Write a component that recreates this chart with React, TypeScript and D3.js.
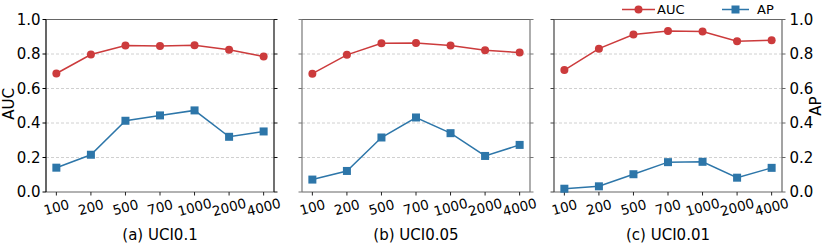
import React from "react";
import * as d3 from "d3";

const categories = ["100", "200", "500", "700", "1000", "2000", "4000"];
const aucA = [0.687, 0.797, 0.849, 0.846, 0.851, 0.824, 0.786];
const apA = [0.141, 0.216, 0.413, 0.444, 0.473, 0.32, 0.351];
const aucB = [0.686, 0.795, 0.862, 0.864, 0.849, 0.822, 0.808];
const apB = [0.072, 0.122, 0.316, 0.432, 0.341, 0.209, 0.273];
const aucC = [0.707, 0.831, 0.913, 0.934, 0.93, 0.874, 0.88];
const apC = [0.019, 0.033, 0.103, 0.173, 0.175, 0.083, 0.14];
const yTicks = [0, 0.2, 0.4, 0.6, 0.8, 1.0];
const captions = ["(a) UCI0.1", "(b) UCI0.05", "(c) UCI0.01"];

const RED = "#cc3b3c";
const BLUE = "#2d76a9";
const FONT = "DejaVu Sans, sans-serif";

const W = 830;
const H = 244;
const TOP = 19.5;
const BOTTOM = 192;
const PW = 228;

const panels = [
  { left: 46, auc: aucA, ap: apA, cap: captions[0], lc: "#000", rc: "#111", showL: true, showR: false },
  { left: 302, auc: aucB, ap: apB, cap: captions[1], lc: "#777", rc: "#777", showL: false, showR: false },
  { left: 554, auc: aucC, ap: apC, cap: captions[2], lc: "#444", rc: "#666", showL: false, showR: true },
];

function Panel({ p }: { p: (typeof panels)[number] }) {
  const x = d3.scaleLinear().domain([-0.3, categories.length - 1 + 0.3]).range([p.left, p.left + PW]);
  const y = d3.scaleLinear().domain([0, 1]).range([BOTTOM, TOP]);
  const line = d3
    .line<number>()
    .x((_, i) => x(i))
    .y((d) => y(d));
  const right = p.left + PW;
  return (
    <g>
      {yTicks
        .filter((t) => t > 0 && t < 1)
        .map((t) => (
          <line key={t} x1={p.left} x2={right} y1={y(t)} y2={y(t)} stroke="#c4c4c4" strokeWidth={0.8} strokeDasharray="3,2" />
        ))}
      <line x1={p.left} x2={right} y1={TOP} y2={TOP} stroke="#666" strokeWidth={1.2} />
      <line x1={p.left} x2={right} y1={BOTTOM} y2={BOTTOM} stroke="#666" strokeWidth={1.2} />
      <line x1={p.left} x2={p.left} y1={TOP} y2={BOTTOM} stroke={p.lc} strokeWidth={1.2} />
      <line x1={right} x2={right} y1={TOP} y2={BOTTOM} stroke={p.rc} strokeWidth={1.2} />
      {yTicks.map((t) => (
        <g key={t}>
          <line x1={p.left - 3.5} x2={p.left} y1={y(t)} y2={y(t)} stroke={p.lc} strokeWidth={1} />
          <line x1={right} x2={right + 3.5} y1={y(t)} y2={y(t)} stroke={p.rc} strokeWidth={1} />
          {p.showL && (
            <text x={p.left - 5.5} y={y(t)} textAnchor="end" dominantBaseline="central" fontSize={15} fontFamily={FONT} fill="#000">
              {t.toFixed(1)}
            </text>
          )}
          {p.showR && (
            <text x={right + 7.5} y={y(t)} textAnchor="start" dominantBaseline="central" fontSize={15} fontFamily={FONT} fill="#000">
              {t.toFixed(1)}
            </text>
          )}
        </g>
      ))}
      {categories.map((c, i) => (
        <g key={c}>
          <line x1={x(i)} x2={x(i)} y1={BOTTOM} y2={BOTTOM + 3.5} stroke="#222" strokeWidth={1} />
          <text
            transform={`translate(${x(i)},${BOTTOM + 15}) rotate(-15)`}
            textAnchor="middle"
            dominantBaseline="central"
            fontSize={13.5}
            fontFamily={FONT}
            fill="#000"
          >
            {c}
          </text>
        </g>
      ))}
      <path d={line(p.auc) || ""} fill="none" stroke={RED} strokeWidth={1.5} />
      <path d={line(p.ap) || ""} fill="none" stroke={BLUE} strokeWidth={1.5} />
      {p.auc.map((v, i) => (
        <circle key={i} cx={x(i)} cy={y(v)} r={4} fill={RED} />
      ))}
      {p.ap.map((v, i) => (
        <rect key={i} x={x(i) - 4} y={y(v) - 4} width={8} height={8} fill={BLUE} />
      ))}
      <text x={p.left + PW / 2} y={235} textAnchor="middle" dominantBaseline="central" fontSize={15} fontFamily={FONT} fill="#000">
        {p.cap}
      </text>
    </g>
  );
}

export default function App() {
  return (
    <svg width={W} height={H} style={{ position: "absolute", left: 0, top: 0, background: "#fff" }}>
      <rect x={0} y={0} width={W} height={H} fill="#fff" />
      {panels.map((p, i) => (
        <Panel key={i} p={p} />
      ))}
      <text transform={`translate(8.5,104) rotate(-90)`} textAnchor="middle" dominantBaseline="central" fontSize={15} fontFamily={FONT}>
        AUC
      </text>
      <text transform={`translate(816,106) rotate(-90)`} textAnchor="middle" dominantBaseline="central" fontSize={15} fontFamily={FONT}>
        AP
      </text>
      <line x1={622} x2={655} y1={9.5} y2={9.5} stroke={RED} strokeWidth={1.5} />
      <circle cx={638.5} cy={9.5} r={4} fill={RED} />
      <text x={657} y={9.5} dominantBaseline="central" fontSize={13} fontFamily={FONT}>AUC</text>
      <line x1={722} x2={749} y1={9.5} y2={9.5} stroke={BLUE} strokeWidth={1.5} />
      <rect x={731.5} y={5.5} width={8} height={8} fill={BLUE} />
      <text x={757} y={9.5} dominantBaseline="central" fontSize={13} fontFamily={FONT}>AP</text>
    </svg>
  );
}
